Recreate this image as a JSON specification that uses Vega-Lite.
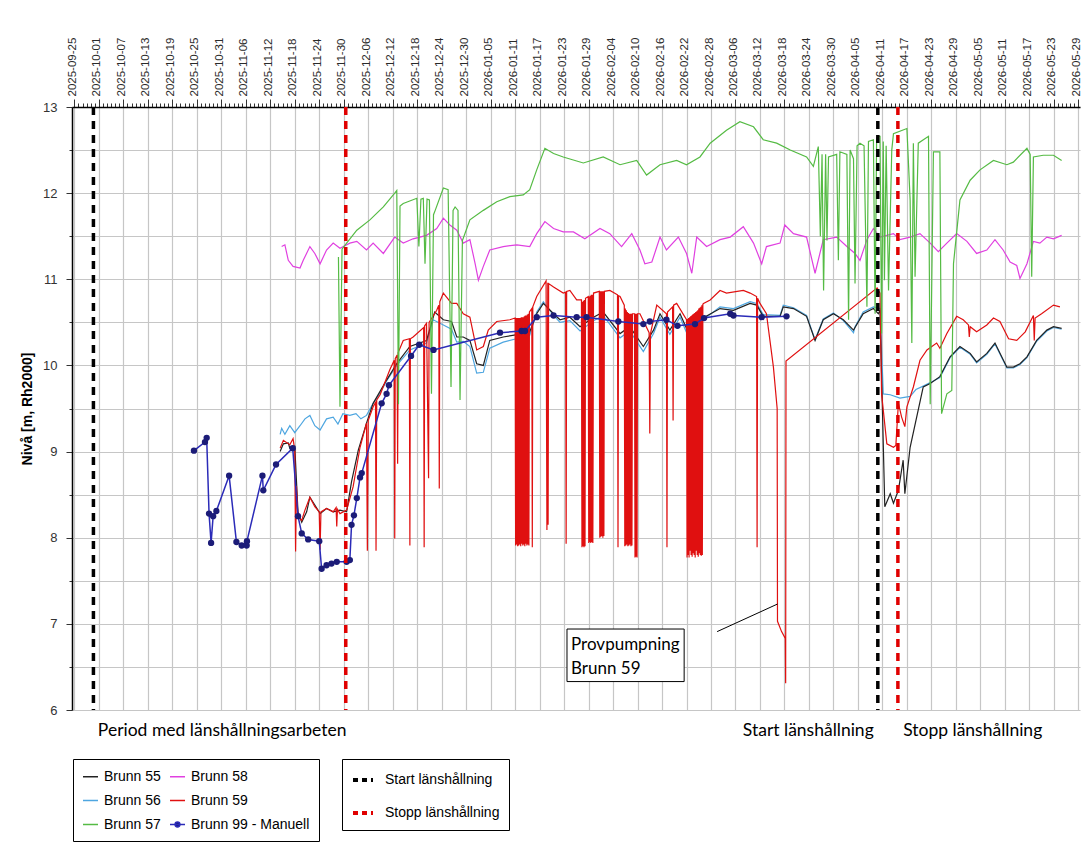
{
"$schema": "https://vega.github.io/schema/vega-lite/v6.json",
"width": 1008, "height": 603,
"autosize": "none",
"padding": {"left": 72, "top": 107, "right": 3, "bottom": 157},
"background": "white",
"config": {"view": {"stroke": null}, "font": "Liberation Sans"},
"datasets": {
"b55": [
{"t":"2025-11-14T10:00","v":9.00},{"t":"2025-11-15T05:00","v":9.09},{"t":"2025-11-16T10:00","v":9.10},{"t":"2025-11-16T19:00","v":9.04},{"t":"2025-11-18T00:00","v":9.06},{"t":"2025-11-18T19:00","v":8.30},{"t":"2025-11-19T17:00","v":8.18},{"t":"2025-11-20T22:00","v":8.30},{"t":"2025-11-21T17:00","v":8.47},{"t":"2025-11-22T22:00","v":8.38},{"t":"2025-11-24T05:00","v":8.28},{"t":"2025-11-25T19:00","v":8.34},{"t":"2025-11-27T10:00","v":8.30},{"t":"2025-11-29T02:00","v":8.32},{"t":"2025-11-30T17:00","v":8.30},{"t":"2025-12-01T22:00","v":8.65},{"t":"2025-12-03T14:00","v":9.02},{"t":"2025-12-05T14:00","v":9.33},{"t":"2025-12-07T05:00","v":9.56},{"t":"2025-12-10T12:00","v":9.83},{"t":"2025-12-13T00:00","v":10.02},{"t":"2025-12-16T05:00","v":10.22},{"t":"2025-12-20T07:00","v":10.29},{"t":"2025-12-22T07:00","v":10.62},{"t":"2025-12-24T10:00","v":10.53},{"t":"2025-12-26T10:00","v":10.51},{"t":"2025-12-27T17:00","v":10.33},{"t":"2025-12-29T07:00","v":10.33},{"t":"2025-12-30T22:00","v":10.29},{"t":"2026-01-01T14:00","v":10.02},{"t":"2026-01-03T05:00","v":10.00},{"t":"2026-01-04T19:00","v":10.29},{"t":"2026-01-08T02:00","v":10.33},{"t":"2026-01-13T00:00","v":10.37},{"t":"2026-01-14T14:00","v":10.39},{"t":"2026-01-16T07:00","v":10.60},{"t":"2026-01-17T22:00","v":10.72},{"t":"2026-01-20T10:00","v":10.60},{"t":"2026-01-22T00:00","v":10.53},{"t":"2026-01-24T10:00","v":10.56},{"t":"2026-01-26T22:00","v":10.45},{"t":"2026-01-30T05:00","v":10.56},{"t":"2026-02-01T14:00","v":10.62},{"t":"2026-02-05T17:00","v":10.37},{"t":"2026-02-08T02:00","v":10.45},{"t":"2026-02-11T10:00","v":10.22},{"t":"2026-02-13T22:00","v":10.41},{"t":"2026-02-15T12:00","v":10.60},{"t":"2026-02-17T22:00","v":10.41},{"t":"2026-02-20T10:00","v":10.60},{"t":"2026-02-22T22:00","v":10.33},{"t":"2026-02-25T07:00","v":10.53},{"t":"2026-03-02T05:00","v":10.66},{"t":"2026-03-05T12:00","v":10.64},{"t":"2026-03-09T14:00","v":10.72},{"t":"2026-03-11T05:00","v":10.70},{"t":"2026-03-12T19:00","v":10.57},{"t":"2026-03-16T22:00","v":10.57},{"t":"2026-03-17T17:00","v":10.68},{"t":"2026-03-20T05:00","v":10.66},{"t":"2026-03-23T10:00","v":10.57},{"t":"2026-03-25T12:00","v":10.29},{"t":"2026-03-27T12:00","v":10.53},{"t":"2026-03-30T00:00","v":10.60},{"t":"2026-04-01T10:00","v":10.53},{"t":"2026-04-03T22:00","v":10.41},{"t":"2026-04-06T07:00","v":10.60},{"t":"2026-04-08T19:00","v":10.66},{"t":"2026-04-10T00:00","v":10.60},{"t":"2026-04-10T10:00","v":10.64},{"t":"2026-04-11T14:00","v":8.36},{"t":"2026-04-12T22:00","v":8.51},{"t":"2026-04-13T17:00","v":8.40},{"t":"2026-04-14T22:00","v":8.55},{"t":"2026-04-16T02:00","v":8.90},{"t":"2026-04-16T12:00","v":8.51},{"t":"2026-04-17T19:00","v":9.05},{"t":"2026-04-21T00:00","v":9.75},{"t":"2026-04-22T17:00","v":9.79},{"t":"2026-04-25T02:00","v":9.87},{"t":"2026-04-27T14:00","v":10.10},{"t":"2026-04-30T00:00","v":10.22},{"t":"2026-05-02T12:00","v":10.14},{"t":"2026-05-04T02:00","v":10.04},{"t":"2026-05-06T14:00","v":10.14},{"t":"2026-05-08T14:00","v":10.26},{"t":"2026-05-11T12:00","v":9.98},{"t":"2026-05-13T02:00","v":9.98},{"t":"2026-05-14T17:00","v":10.02},{"t":"2026-05-16T10:00","v":10.10},{"t":"2026-05-18T19:00","v":10.29},{"t":"2026-05-21T07:00","v":10.41},{"t":"2026-05-22T22:00","v":10.45},{"t":"2026-05-24T22:00","v":10.43}
],
"b56": [
{"t":"2025-11-14T10:00","v":9.20},{"t":"2025-11-14T19:00","v":9.27},{"t":"2025-11-15T14:00","v":9.20},{"t":"2025-11-16T19:00","v":9.30},{"t":"2025-11-18T00:00","v":9.22},{"t":"2025-11-19T07:00","v":9.30},{"t":"2025-11-20T12:00","v":9.38},{"t":"2025-11-21T17:00","v":9.42},{"t":"2025-11-22T22:00","v":9.30},{"t":"2025-11-24T05:00","v":9.25},{"t":"2025-11-25T19:00","v":9.38},{"t":"2025-11-27T10:00","v":9.40},{"t":"2025-11-28T14:00","v":9.32},{"t":"2025-11-29T19:00","v":9.44},{"t":"2025-12-01T12:00","v":9.42},{"t":"2025-12-03T00:00","v":9.44},{"t":"2025-12-04T05:00","v":9.38},{"t":"2025-12-05T14:00","v":9.42},{"t":"2025-12-07T05:00","v":9.56},{"t":"2025-12-08T22:00","v":9.68},{"t":"2025-12-10T12:00","v":9.82},{"t":"2025-12-13T00:00","v":10.00},{"t":"2025-12-16T05:00","v":10.18},{"t":"2025-12-20T07:00","v":10.26},{"t":"2025-12-21T22:00","v":10.53},{"t":"2025-12-24T10:00","v":10.47},{"t":"2025-12-26T10:00","v":10.42},{"t":"2025-12-27T17:00","v":10.27},{"t":"2025-12-29T07:00","v":10.28},{"t":"2025-12-30T22:00","v":10.22},{"t":"2026-01-01T14:00","v":9.91},{"t":"2026-01-03T05:00","v":9.92},{"t":"2026-01-04T19:00","v":10.20},{"t":"2026-01-08T02:00","v":10.27},{"t":"2026-01-13T00:00","v":10.33},{"t":"2026-01-14T14:00","v":10.35},{"t":"2026-01-16T07:00","v":10.62},{"t":"2026-01-17T22:00","v":10.74},{"t":"2026-01-20T10:00","v":10.58},{"t":"2026-01-22T00:00","v":10.50},{"t":"2026-01-24T10:00","v":10.52},{"t":"2026-01-26T22:00","v":10.40},{"t":"2026-01-30T05:00","v":10.52},{"t":"2026-02-01T14:00","v":10.58},{"t":"2026-02-05T17:00","v":10.32},{"t":"2026-02-08T02:00","v":10.40},{"t":"2026-02-11T10:00","v":10.16},{"t":"2026-02-13T22:00","v":10.37},{"t":"2026-02-15T12:00","v":10.56},{"t":"2026-02-17T22:00","v":10.36},{"t":"2026-02-20T10:00","v":10.56},{"t":"2026-02-22T22:00","v":10.28},{"t":"2026-02-25T07:00","v":10.50},{"t":"2026-03-02T05:00","v":10.68},{"t":"2026-03-05T12:00","v":10.66},{"t":"2026-03-09T14:00","v":10.74},{"t":"2026-03-11T05:00","v":10.72},{"t":"2026-03-12T19:00","v":10.59},{"t":"2026-03-16T22:00","v":10.58},{"t":"2026-03-17T17:00","v":10.70},{"t":"2026-03-20T05:00","v":10.67},{"t":"2026-03-23T10:00","v":10.58},{"t":"2026-03-25T12:00","v":10.30},{"t":"2026-03-27T12:00","v":10.54},{"t":"2026-03-30T00:00","v":10.61},{"t":"2026-04-01T10:00","v":10.52},{"t":"2026-04-03T22:00","v":10.38},{"t":"2026-04-04T07:00","v":10.45},{"t":"2026-04-06T07:00","v":10.62},{"t":"2026-04-08T19:00","v":10.68},{"t":"2026-04-10T10:00","v":10.66},{"t":"2026-04-11T05:00","v":9.67},{"t":"2026-04-12T22:00","v":9.66},{"t":"2026-04-15T07:00","v":9.62},{"t":"2026-04-17T19:00","v":9.64},{"t":"2026-04-19T05:00","v":9.72},{"t":"2026-04-21T00:00","v":9.76},{"t":"2026-04-22T17:00","v":9.80},{"t":"2026-04-25T02:00","v":9.86},{"t":"2026-04-27T14:00","v":10.09},{"t":"2026-04-30T00:00","v":10.21},{"t":"2026-05-02T12:00","v":10.13},{"t":"2026-05-04T02:00","v":10.03},{"t":"2026-05-06T14:00","v":10.13},{"t":"2026-05-08T14:00","v":10.25},{"t":"2026-05-11T12:00","v":9.97},{"t":"2026-05-13T02:00","v":9.97},{"t":"2026-05-14T17:00","v":10.01},{"t":"2026-05-16T10:00","v":10.09},{"t":"2026-05-18T19:00","v":10.28},{"t":"2026-05-21T07:00","v":10.40},{"t":"2026-05-22T22:00","v":10.44},{"t":"2026-05-24T22:00","v":10.42}
],
"b57": [
{"t":"2025-11-28T17:00","v":11.26},{"t":"2025-11-29T02:00","v":9.52},{"t":"2025-11-29T14:00","v":11.35},{"t":"2025-11-30T17:00","v":11.42},{"t":"2025-12-03T05:00","v":11.57},{"t":"2025-12-06T10:00","v":11.69},{"t":"2025-12-09T17:00","v":11.84},{"t":"2025-12-12T12:00","v":12.00},{"t":"2025-12-13T00:00","v":12.03},{"t":"2025-12-13T10:00","v":9.55},{"t":"2025-12-13T19:00","v":11.85},{"t":"2025-12-14T14:00","v":11.88},{"t":"2025-12-17T22:00","v":11.94},{"t":"2025-12-18T10:00","v":11.38},{"t":"2025-12-18T22:00","v":11.93},{"t":"2025-12-19T12:00","v":11.94},{"t":"2025-12-19T22:00","v":11.18},{"t":"2025-12-20T10:00","v":11.93},{"t":"2025-12-21T00:00","v":11.92},{"t":"2025-12-21T12:00","v":9.67},{"t":"2025-12-22T00:00","v":11.75},{"t":"2025-12-22T10:00","v":11.80},{"t":"2025-12-24T10:00","v":12.06},{"t":"2025-12-25T14:00","v":12.04},{"t":"2025-12-26T07:00","v":9.75},{"t":"2025-12-26T19:00","v":11.80},{"t":"2025-12-27T07:00","v":11.84},{"t":"2025-12-28T00:00","v":11.80},{"t":"2025-12-28T12:00","v":9.60},{"t":"2025-12-29T02:00","v":11.45},{"t":"2025-12-30T22:00","v":11.69},{"t":"2026-01-03T05:00","v":11.80},{"t":"2026-01-06T12:00","v":11.90},{"t":"2026-01-09T17:00","v":11.96},{"t":"2026-01-13T00:00","v":11.98},{"t":"2026-01-14T14:00","v":12.04},{"t":"2026-01-16T07:00","v":12.27},{"t":"2026-01-18T07:00","v":12.52},{"t":"2026-01-20T10:00","v":12.46},{"t":"2026-01-22T19:00","v":12.42},{"t":"2026-01-27T17:00","v":12.35},{"t":"2026-02-01T14:00","v":12.42},{"t":"2026-02-05T17:00","v":12.33},{"t":"2026-02-09T19:00","v":12.38},{"t":"2026-02-12T05:00","v":12.21},{"t":"2026-02-15T12:00","v":12.33},{"t":"2026-02-19T14:00","v":12.38},{"t":"2026-02-22T00:00","v":12.33},{"t":"2026-02-25T07:00","v":12.42},{"t":"2026-02-27T19:00","v":12.58},{"t":"2026-03-03T19:00","v":12.73},{"t":"2026-03-07T02:00","v":12.83},{"t":"2026-03-10T10:00","v":12.77},{"t":"2026-03-12T19:00","v":12.62},{"t":"2026-03-16T02:00","v":12.58},{"t":"2026-03-19T10:00","v":12.50},{"t":"2026-03-23T10:00","v":12.42},{"t":"2026-03-25T02:00","v":12.31},{"t":"2026-03-26T07:00","v":12.54},{"t":"2026-03-26T19:00","v":11.50},{"t":"2026-03-27T05:00","v":12.45},{"t":"2026-03-27T14:00","v":10.87},{"t":"2026-03-28T02:00","v":12.45},{"t":"2026-03-28T10:00","v":11.45},{"t":"2026-03-28T19:00","v":12.42},{"t":"2026-03-30T19:00","v":12.45},{"t":"2026-03-31T05:00","v":11.22},{"t":"2026-03-31T14:00","v":12.48},{"t":"2026-04-02T07:00","v":12.45},{"t":"2026-04-02T17:00","v":10.53},{"t":"2026-04-03T02:00","v":12.50},{"t":"2026-04-03T22:00","v":12.40},{"t":"2026-04-04T07:00","v":10.95},{"t":"2026-04-04T19:00","v":12.55},{"t":"2026-04-05T12:00","v":12.58},{"t":"2026-04-06T12:00","v":12.55},{"t":"2026-04-07T05:00","v":10.68},{"t":"2026-04-07T14:00","v":12.60},{"t":"2026-04-08T19:00","v":12.62},{"t":"2026-04-09T05:00","v":10.60},{"t":"2026-04-09T14:00","v":12.64},{"t":"2026-04-10T00:00","v":12.66},{"t":"2026-04-10T10:00","v":12.66},{"t":"2026-04-10T19:00","v":10.37},{"t":"2026-04-11T05:00","v":12.60},{"t":"2026-04-11T12:00","v":10.99},{"t":"2026-04-11T22:00","v":12.55},{"t":"2026-04-12T12:00","v":10.87},{"t":"2026-04-13T07:00","v":12.50},{"t":"2026-04-13T17:00","v":12.69},{"t":"2026-04-17T00:00","v":12.75},{"t":"2026-04-17T19:00","v":11.92},{"t":"2026-04-18T05:00","v":10.26},{"t":"2026-04-18T14:00","v":12.58},{"t":"2026-04-19T00:00","v":11.03},{"t":"2026-04-19T19:00","v":12.58},{"t":"2026-04-22T07:00","v":12.66},{"t":"2026-04-22T17:00","v":9.55},{"t":"2026-04-23T12:00","v":12.48},{"t":"2026-04-25T02:00","v":12.48},{"t":"2026-04-25T12:00","v":9.44},{"t":"2026-04-26T19:00","v":9.67},{"t":"2026-04-28T00:00","v":9.71},{"t":"2026-04-28T10:00","v":11.18},{"t":"2026-04-30T00:00","v":11.92},{"t":"2026-05-02T12:00","v":12.15},{"t":"2026-05-04T22:00","v":12.27},{"t":"2026-05-08T05:00","v":12.38},{"t":"2026-05-11T12:00","v":12.33},{"t":"2026-05-13T02:00","v":12.36},{"t":"2026-05-16T10:00","v":12.52},{"t":"2026-05-17T05:00","v":12.45},{"t":"2026-05-17T14:00","v":11.03},{"t":"2026-05-18T00:00","v":12.42},{"t":"2026-05-20T10:00","v":12.44},{"t":"2026-05-22T22:00","v":12.44},{"t":"2026-05-24T22:00","v":12.38}
],
"b58": [
{"t":"2025-11-14T19:00","v":11.38},{"t":"2025-11-15T14:00","v":11.40},{"t":"2025-11-16T10:00","v":11.22},{"t":"2025-11-17T14:00","v":11.15},{"t":"2025-11-19T07:00","v":11.13},{"t":"2025-11-20T02:00","v":11.22},{"t":"2025-11-21T17:00","v":11.38},{"t":"2025-11-22T22:00","v":11.30},{"t":"2025-11-24T05:00","v":11.18},{"t":"2025-11-25T19:00","v":11.34},{"t":"2025-11-27T10:00","v":11.42},{"t":"2025-11-29T02:00","v":11.36},{"t":"2025-12-01T12:00","v":11.42},{"t":"2025-12-03T05:00","v":11.44},{"t":"2025-12-05T14:00","v":11.34},{"t":"2025-12-07T05:00","v":11.42},{"t":"2025-12-09T17:00","v":11.30},{"t":"2025-12-12T12:00","v":11.49},{"t":"2025-12-14T14:00","v":11.42},{"t":"2025-12-17T00:00","v":11.47},{"t":"2025-12-20T07:00","v":11.51},{"t":"2025-12-22T19:00","v":11.59},{"t":"2025-12-24T10:00","v":11.71},{"t":"2025-12-26T00:00","v":11.63},{"t":"2025-12-27T17:00","v":11.57},{"t":"2025-12-29T07:00","v":11.42},{"t":"2025-12-30T22:00","v":11.46},{"t":"2026-01-01T05:00","v":11.18},{"t":"2026-01-02T00:00","v":10.99},{"t":"2026-01-03T05:00","v":11.15},{"t":"2026-01-04T19:00","v":11.34},{"t":"2026-01-08T02:00","v":11.38},{"t":"2026-01-11T10:00","v":11.40},{"t":"2026-01-14T14:00","v":11.38},{"t":"2026-01-16T07:00","v":11.53},{"t":"2026-01-18T07:00","v":11.67},{"t":"2026-01-20T10:00","v":11.59},{"t":"2026-01-22T19:00","v":11.55},{"t":"2026-01-25T07:00","v":11.55},{"t":"2026-01-28T02:00","v":11.47},{"t":"2026-01-31T19:00","v":11.59},{"t":"2026-02-03T05:00","v":11.53},{"t":"2026-02-06T02:00","v":11.38},{"t":"2026-02-08T14:00","v":11.53},{"t":"2026-02-10T14:00","v":11.34},{"t":"2026-02-11T19:00","v":11.18},{"t":"2026-02-13T12:00","v":11.20},{"t":"2026-02-15T12:00","v":11.49},{"t":"2026-02-17T02:00","v":11.34},{"t":"2026-02-20T00:00","v":11.49},{"t":"2026-02-22T00:00","v":11.30},{"t":"2026-02-23T07:00","v":11.07},{"t":"2026-02-24T12:00","v":11.49},{"t":"2026-02-26T22:00","v":11.38},{"t":"2026-03-02T05:00","v":11.46},{"t":"2026-03-04T17:00","v":11.49},{"t":"2026-03-07T22:00","v":11.61},{"t":"2026-03-10T10:00","v":11.42},{"t":"2026-03-12T10:00","v":11.18},{"t":"2026-03-13T14:00","v":11.38},{"t":"2026-03-16T22:00","v":11.42},{"t":"2026-03-18T02:00","v":11.63},{"t":"2026-03-20T05:00","v":11.53},{"t":"2026-03-23T10:00","v":11.49},{"t":"2026-03-25T12:00","v":11.07},{"t":"2026-03-27T12:00","v":11.46},{"t":"2026-03-30T19:00","v":11.49},{"t":"2026-04-02T07:00","v":11.38},{"t":"2026-04-04T07:00","v":11.30},{"t":"2026-04-05T12:00","v":11.22},{"t":"2026-04-07T05:00","v":11.46},{"t":"2026-04-08T19:00","v":11.59},{"t":"2026-04-10T10:00","v":11.49},{"t":"2026-04-13T17:00","v":11.53},{"t":"2026-04-15T07:00","v":11.46},{"t":"2026-04-17T19:00","v":11.49},{"t":"2026-04-20T05:00","v":11.53},{"t":"2026-04-22T17:00","v":11.42},{"t":"2026-04-24T17:00","v":11.32},{"t":"2026-04-26T19:00","v":11.42},{"t":"2026-04-29T05:00","v":11.53},{"t":"2026-05-01T17:00","v":11.44},{"t":"2026-05-04T02:00","v":11.30},{"t":"2026-05-06T14:00","v":11.34},{"t":"2026-05-08T14:00","v":11.46},{"t":"2026-05-10T14:00","v":11.34},{"t":"2026-05-12T07:00","v":11.20},{"t":"2026-05-13T22:00","v":11.16},{"t":"2026-05-14T17:00","v":11.01},{"t":"2026-05-16T10:00","v":11.18},{"t":"2026-05-18T00:00","v":11.44},{"t":"2026-05-19T14:00","v":11.42},{"t":"2026-05-21T07:00","v":11.49},{"t":"2026-05-22T22:00","v":11.47},{"t":"2026-05-24T22:00","v":11.51}
],
"b59": [
{"t":"2025-11-14T10:00","v":9.04},{"t":"2025-11-15T05:00","v":9.13},{"t":"2025-11-16T19:00","v":9.08},{"t":"2025-11-17T14:00","v":9.15},{"t":"2025-11-18T00:00","v":9.02},{"t":"2025-11-18T05:00","v":7.84},{"t":"2025-11-18T10:00","v":8.60},{"t":"2025-11-18T19:00","v":8.24},{"t":"2025-11-19T17:00","v":8.20},{"t":"2025-11-20T12:00","v":8.32},{"t":"2025-11-21T17:00","v":8.47},{"t":"2025-11-22T22:00","v":8.36},{"t":"2025-11-24T00:00","v":8.30},{"t":"2025-11-24T05:00","v":7.86},{"t":"2025-11-24T10:00","v":8.30},{"t":"2025-11-25T19:00","v":8.34},{"t":"2025-11-27T10:00","v":8.30},{"t":"2025-11-28T03:00","v":8.35},{"t":"2025-11-28T07:00","v":8.13},{"t":"2025-11-28T11:00","v":8.33},{"t":"2025-11-29T02:00","v":8.28},{"t":"2025-11-30T17:00","v":8.32},{"t":"2025-12-02T07:00","v":8.59},{"t":"2025-12-04T00:00","v":9.05},{"t":"2025-12-05T14:00","v":9.33},{"t":"2025-12-05T19:00","v":7.85},{"t":"2025-12-06T00:00","v":9.36},{"t":"2025-12-07T05:00","v":9.52},{"t":"2025-12-07T19:00","v":9.57},{"t":"2025-12-07T22:00","v":7.85},{"t":"2025-12-08T02:00","v":9.60},{"t":"2025-12-08T22:00","v":9.66},{"t":"2025-12-11T07:00","v":9.95},{"t":"2025-12-12T09:00","v":10.06},{"t":"2025-12-12T12:00","v":7.99},{"t":"2025-12-12T15:00","v":10.08},{"t":"2025-12-13T02:00","v":10.12},{"t":"2025-12-13T05:00","v":8.86},{"t":"2025-12-13T08:00","v":10.15},{"t":"2025-12-14T14:00","v":10.29},{"t":"2025-12-16T02:00","v":10.31},{"t":"2025-12-16T05:00","v":7.91},{"t":"2025-12-16T08:00","v":10.31},{"t":"2025-12-17T00:00","v":10.33},{"t":"2025-12-19T14:00","v":10.44},{"t":"2025-12-19T17:00","v":7.89},{"t":"2025-12-19T20:00","v":10.46},{"t":"2025-12-20T07:00","v":10.49},{"t":"2025-12-20T19:00","v":8.69},{"t":"2025-12-20T22:00","v":10.50},{"t":"2025-12-22T19:00","v":10.64},{"t":"2025-12-23T07:00","v":10.70},{"t":"2025-12-23T10:00","v":8.57},{"t":"2025-12-23T13:00","v":10.74},{"t":"2025-12-24T10:00","v":10.84},{"t":"2025-12-26T10:00","v":10.72},{"t":"2025-12-27T17:00","v":10.72},{"t":"2025-12-29T07:00","v":10.60},{"t":"2025-12-30T22:00","v":10.56},{"t":"2026-01-01T14:00","v":10.18},{"t":"2026-01-03T05:00","v":10.22},{"t":"2026-01-04T10:00","v":10.41},{"t":"2026-01-06T12:00","v":10.51},{"t":"2026-01-09T17:00","v":10.53},
{"t":"2026-01-11T00:00","v":10.55},{"t":"2026-01-11T03:00","v":7.91},{"t":"2026-01-11T06:00","v":10.55},{"t":"2026-01-11T09:00","v":7.92},{"t":"2026-01-11T12:00","v":10.55},{"t":"2026-01-11T15:00","v":7.90},{"t":"2026-01-11T18:00","v":10.55},{"t":"2026-01-11T21:00","v":7.91},{"t":"2026-01-12T00:00","v":10.55},{"t":"2026-01-12T03:00","v":7.92},{"t":"2026-01-12T06:00","v":10.55},{"t":"2026-01-12T09:00","v":7.90},{"t":"2026-01-12T12:00","v":10.56},{"t":"2026-01-12T15:00","v":7.93},{"t":"2026-01-12T18:00","v":10.56},{"t":"2026-01-12T21:00","v":7.91},{"t":"2026-01-13T00:00","v":10.56},{"t":"2026-01-13T03:00","v":7.92},{"t":"2026-01-13T06:00","v":10.57},{"t":"2026-01-13T09:00","v":7.90},{"t":"2026-01-13T12:00","v":10.58},{"t":"2026-01-13T15:00","v":7.93},{"t":"2026-01-13T18:00","v":10.58},{"t":"2026-01-13T21:00","v":7.91},{"t":"2026-01-14T00:00","v":10.59},{"t":"2026-01-14T03:00","v":7.92},{"t":"2026-01-14T06:00","v":10.60},{"t":"2026-01-14T09:00","v":7.91},{"t":"2026-01-14T12:00","v":10.62},
{"t":"2026-01-15T02:00","v":10.66},{"t":"2026-01-15T05:00","v":7.89},{"t":"2026-01-15T08:00","v":10.68},{"t":"2026-01-16T07:00","v":10.80},{"t":"2026-01-18T14:00","v":10.98},{"t":"2026-01-18T19:00","v":8.09},{"t":"2026-01-19T00:00","v":10.96},{"t":"2026-01-19T02:00","v":8.15},{"t":"2026-01-19T05:00","v":10.95},{"t":"2026-01-20T10:00","v":10.91},{"t":"2026-01-22T19:00","v":10.84},{"t":"2026-01-23T09:00","v":10.85},{"t":"2026-01-23T12:00","v":7.93},{"t":"2026-01-23T15:00","v":10.86},{"t":"2026-01-24T10:00","v":10.87},{"t":"2026-01-26T02:00","v":10.76},
{"t":"2026-01-27T06:00","v":10.76},{"t":"2026-01-27T09:00","v":7.89},{"t":"2026-01-27T12:00","v":10.74},{"t":"2026-01-27T15:00","v":7.90},{"t":"2026-01-27T18:00","v":10.75},{"t":"2026-01-27T21:00","v":7.89},{"t":"2026-01-28T00:00","v":10.76},{"t":"2026-01-28T03:00","v":7.90},{"t":"2026-01-28T06:00","v":10.78},
{"t":"2026-01-28T22:00","v":10.80},{"t":"2026-01-29T01:00","v":7.94},{"t":"2026-01-29T04:00","v":10.80},{"t":"2026-01-29T07:00","v":7.95},{"t":"2026-01-29T10:00","v":10.81},{"t":"2026-01-29T13:00","v":7.94},{"t":"2026-01-29T16:00","v":10.82},{"t":"2026-01-29T19:00","v":7.95},{"t":"2026-01-29T22:00","v":10.82},{"t":"2026-01-30T01:00","v":7.94},{"t":"2026-01-30T05:00","v":10.84},
{"t":"2026-01-31T15:00","v":10.86},{"t":"2026-01-31T18:00","v":8.00},{"t":"2026-01-31T21:00","v":10.86},{"t":"2026-02-01T00:00","v":8.01},{"t":"2026-02-01T03:00","v":10.86},{"t":"2026-02-01T06:00","v":8.02},{"t":"2026-02-01T09:00","v":10.86},{"t":"2026-02-01T12:00","v":8.00},{"t":"2026-02-01T15:00","v":10.86},{"t":"2026-02-01T18:00","v":8.02},{"t":"2026-02-01T21:00","v":10.86},
{"t":"2026-02-03T05:00","v":10.87},{"t":"2026-02-05T02:00","v":10.82},{"t":"2026-02-05T05:00","v":7.89},{"t":"2026-02-05T08:00","v":10.81},{"t":"2026-02-05T17:00","v":10.80},
{"t":"2026-02-06T18:00","v":10.70},{"t":"2026-02-06T21:00","v":7.90},{"t":"2026-02-07T00:00","v":10.66},{"t":"2026-02-07T03:00","v":7.91},{"t":"2026-02-07T06:00","v":10.64},{"t":"2026-02-07T09:00","v":7.92},{"t":"2026-02-07T12:00","v":10.62},{"t":"2026-02-07T15:00","v":7.90},{"t":"2026-02-07T18:00","v":10.61},{"t":"2026-02-07T21:00","v":7.91},{"t":"2026-02-08T00:00","v":10.60},{"t":"2026-02-08T03:00","v":7.92},{"t":"2026-02-08T06:00","v":10.60},{"t":"2026-02-08T09:00","v":7.90},{"t":"2026-02-08T12:00","v":10.60},{"t":"2026-02-08T15:00","v":7.91},{"t":"2026-02-08T18:00","v":10.60},
{"t":"2026-02-09T06:00","v":10.60},{"t":"2026-02-09T09:00","v":7.77},{"t":"2026-02-09T12:00","v":10.60},{"t":"2026-02-09T15:00","v":7.78},{"t":"2026-02-09T18:00","v":10.60},{"t":"2026-02-09T21:00","v":7.77},{"t":"2026-02-10T00:00","v":10.60},
{"t":"2026-02-10T14:00","v":10.60},{"t":"2026-02-12T20:00","v":10.38},{"t":"2026-02-13T00:00","v":9.21},{"t":"2026-02-13T04:00","v":10.37},{"t":"2026-02-14T17:00","v":10.70},{"t":"2026-02-17T02:00","v":10.60},{"t":"2026-02-17T05:00","v":7.89},{"t":"2026-02-17T08:00","v":10.62},{"t":"2026-02-18T14:00","v":10.68},{"t":"2026-02-18T17:00","v":9.36},{"t":"2026-02-18T20:00","v":10.70},{"t":"2026-02-19T14:00","v":10.72},
{"t":"2026-02-22T00:00","v":10.53},{"t":"2026-02-22T03:00","v":7.77},{"t":"2026-02-22T06:00","v":10.54},{"t":"2026-02-22T09:00","v":7.80},{"t":"2026-02-22T12:00","v":10.55},{"t":"2026-02-22T15:00","v":7.77},{"t":"2026-02-22T18:00","v":10.56},{"t":"2026-02-22T21:00","v":7.85},{"t":"2026-02-23T00:00","v":10.57},{"t":"2026-02-23T03:00","v":7.80},{"t":"2026-02-23T06:00","v":10.58},{"t":"2026-02-23T09:00","v":7.78},{"t":"2026-02-23T12:00","v":10.59},{"t":"2026-02-23T15:00","v":7.82},{"t":"2026-02-23T18:00","v":10.60},{"t":"2026-02-23T21:00","v":7.80},{"t":"2026-02-24T00:00","v":10.61},{"t":"2026-02-24T03:00","v":7.77},{"t":"2026-02-24T06:00","v":10.62},{"t":"2026-02-24T09:00","v":7.85},{"t":"2026-02-24T12:00","v":10.63},{"t":"2026-02-24T15:00","v":7.80},{"t":"2026-02-24T18:00","v":10.64},{"t":"2026-02-24T21:00","v":7.78},{"t":"2026-02-25T00:00","v":10.66},{"t":"2026-02-25T03:00","v":7.82},{"t":"2026-02-25T06:00","v":10.67},{"t":"2026-02-25T09:00","v":7.80},{"t":"2026-02-25T12:00","v":10.68},{"t":"2026-02-25T15:00","v":7.79},{"t":"2026-02-25T18:00","v":10.70},{"t":"2026-02-25T21:00","v":7.80},{"t":"2026-02-26T00:00","v":10.71},
{"t":"2026-02-26T04:00","v":10.72},{"t":"2026-02-27T19:00","v":10.76},{"t":"2026-03-02T05:00","v":10.87},{"t":"2026-03-03T19:00","v":10.84},{"t":"2026-03-07T22:00","v":10.87},{"t":"2026-03-09T14:00","v":10.84},{"t":"2026-03-11T04:00","v":10.80},{"t":"2026-03-11T07:00","v":7.89},{"t":"2026-03-11T10:00","v":10.78},{"t":"2026-03-12T00:00","v":10.72},{"t":"2026-03-13T14:00","v":10.60},{"t":"2026-03-15T07:00","v":9.98},{"t":"2026-03-16T05:00","v":9.50},{"t":"2026-03-16T07:00","v":7.03},{"t":"2026-03-17T07:00","v":6.91},{"t":"2026-03-18T05:00","v":6.83},{"t":"2026-03-18T07:00","v":6.31},{"t":"2026-03-18T09:00","v":10.05},{"t":"2026-04-09T17:00","v":10.90},{"t":"2026-04-10T10:00","v":10.84},{"t":"2026-04-10T19:00","v":9.67},{"t":"2026-04-12T02:00","v":9.09},{"t":"2026-04-13T17:00","v":9.05},{"t":"2026-04-14T07:00","v":9.07},{"t":"2026-04-14T22:00","v":9.56},{"t":"2026-04-15T17:00","v":9.40},{"t":"2026-04-16T12:00","v":9.29},{"t":"2026-04-17T00:00","v":9.52},{"t":"2026-04-18T14:00","v":9.75},{"t":"2026-04-20T05:00","v":10.06},{"t":"2026-04-21T22:00","v":10.18},{"t":"2026-04-24T07:00","v":10.26},{"t":"2026-04-25T02:00","v":10.20},{"t":"2026-04-26T19:00","v":10.37},{"t":"2026-04-29T05:00","v":10.57},{"t":"2026-04-30T19:00","v":10.53},{"t":"2026-05-02T02:00","v":10.47},{"t":"2026-05-02T07:00","v":10.33},{"t":"2026-05-02T12:00","v":10.45},{"t":"2026-05-04T02:00","v":10.39},{"t":"2026-05-06T14:00","v":10.47},{"t":"2026-05-08T05:00","v":10.55},{"t":"2026-05-09T19:00","v":10.51},{"t":"2026-05-11T22:00","v":10.31},{"t":"2026-05-13T22:00","v":10.29},{"t":"2026-05-16T00:00","v":10.39},{"t":"2026-05-18T00:00","v":10.58},{"t":"2026-05-18T05:00","v":10.29},{"t":"2026-05-18T10:00","v":10.55},{"t":"2026-05-20T00:00","v":10.60},{"t":"2026-05-22T22:00","v":10.70},{"t":"2026-05-24T12:00","v":10.68}
],
"b99": [
{"t":"2025-10-24T07:00","v":9.01},{"t":"2025-10-27T00:00","v":9.11},{"t":"2025-10-27T10:00","v":9.16},{"t":"2025-10-28T00:00","v":8.28},{"t":"2025-10-28T12:00","v":7.94},{"t":"2025-10-29T00:00","v":8.25},{"t":"2025-10-29T19:00","v":8.31},{"t":"2025-11-01T22:00","v":8.72},{"t":"2025-11-03T17:00","v":7.95},{"t":"2025-11-05T00:00","v":7.91},{"t":"2025-11-06T05:00","v":7.91},{"t":"2025-11-06T07:00","v":7.96},{"t":"2025-11-10T02:00","v":8.72},{"t":"2025-11-10T07:00","v":8.55},{"t":"2025-11-13T10:00","v":8.85},{"t":"2025-11-17T12:00","v":9.04},{"t":"2025-11-18T19:00","v":8.25},{"t":"2025-11-19T17:00","v":8.05},{"t":"2025-11-21T07:00","v":7.98},{"t":"2025-11-24T00:00","v":7.96},{"t":"2025-11-24T14:00","v":7.64},{"t":"2025-11-25T19:00","v":7.68},{"t":"2025-11-27T00:00","v":7.70},{"t":"2025-11-28T07:00","v":7.72},{"t":"2025-11-30T17:00","v":7.72},{"t":"2025-12-01T12:00","v":7.74},{"t":"2025-12-01T22:00","v":8.15},{"t":"2025-12-02T12:00","v":8.26},{"t":"2025-12-03T05:00","v":8.46},{"t":"2025-12-04T00:00","v":8.70},{"t":"2025-12-04T10:00","v":8.75},{"t":"2025-12-09T07:00","v":9.56},{"t":"2025-12-10T12:00","v":9.67},{"t":"2025-12-11T02:00","v":9.77},{"t":"2025-12-16T12:00","v":10.11},{"t":"2025-12-18T12:00","v":10.24},{"t":"2025-12-22T00:00","v":10.18},{"t":"2026-01-07T07:00","v":10.38},{"t":"2026-01-12T14:00","v":10.40},{"t":"2026-01-13T10:00","v":10.40},{"t":"2026-01-16T07:00","v":10.56},{"t":"2026-01-20T10:00","v":10.58},{"t":"2026-01-26T02:00","v":10.56},{"t":"2026-01-28T12:00","v":10.56},{"t":"2026-02-05T07:00","v":10.51},{"t":"2026-02-11T10:00","v":10.48},{"t":"2026-02-13T00:00","v":10.51},{"t":"2026-02-17T02:00","v":10.53},{"t":"2026-02-19T19:00","v":10.46},{"t":"2026-02-24T02:00","v":10.48},{"t":"2026-02-26T07:00","v":10.55},{"t":"2026-03-04T17:00","v":10.60},{"t":"2026-03-05T12:00","v":10.58},{"t":"2026-03-12T10:00","v":10.56},{"t":"2026-03-18T12:00","v":10.57}
],
"events": [
{"t":"2025-09-29T16:00","e":"Start länshållning"},{"t":"2025-11-30T12:00","e":"Stopp länshållning"},{"t":"2026-04-09T21:00","e":"Start länshållning"},{"t":"2026-04-14T19:00","e":"Stopp länshållning"}
],
"box": [{"t":"2026-01-23T17:00","t2":"2026-02-21T10:00","v":6.94,"v2":6.33}],
"boxtext": [{"t":"2026-01-24T17:00","v":6.75,"txt":"Provpumpning"},{"t":"2026-01-24T17:00","v":6.48,"txt":"Brunn 59"}],
"callout": [{"t":"2026-03-01T12:00","v":6.91,"t2":"2026-03-16T07:00","v2":7.23}],
"notes": [{"t":"2025-09-30T18:00","v":5.76,"txt":"Period med länshållningsarbeten"},{"t":"2026-03-07T19:00","v":5.76,"txt":"Start länshållning"},{"t":"2026-04-16T02:00","v":5.76,"txt":"Stopp länshållning"}]
},
"layer": [
{"data": {"name": "b56"}, "mark": {"type": "line", "strokeWidth": 1.2},
 "encoding": {
  "x": {"field": "t", "type": "temporal",
   "scale": {"domain": [{"year": 2025, "month": 9, "date": 24, "hours": 10}, {"year": 2026, "month": 5, "date": 29, "hours": 10}]},
   "axis": {"orient": "top", "title": null,
    "tickCount": {"interval": "day", "step": 1},
    "labelExpr": "round((datum.value - datetime(2025,8,25))/86400000) % 6 === 0 ? timeFormat(datum.value, '%Y-%m-%d') : ''",
    "labelAngle": 270, "labelAlign": "left", "labelBaseline": "middle", "labelOffset": -2,
    "labelOverlap": false, "labelFlush": false, "labelBound": false,
    "labelFont": "Liberation Sans", "labelFontSize": 11.5, "labelColor": "#2a2a2a", "labelPadding": 3,
    "tickSize": {"condition": {"test": "round((datum.value - datetime(2025,8,25))/86400000) % 6 === 0", "value": 8}, "value": 4},
    "tickColor": "#333333", "tickWidth": 1,
    "grid": true,
    "gridOpacity": {"condition": {"test": "round((datum.value - datetime(2025,8,25))/86400000) % 6 === 0", "value": 1}, "value": 0},
    "gridColor": "#c6c6c6", "gridWidth": 1.2,
    "domainColor": "#000000", "domainWidth": 1.5}},
  "y": {"field": "v", "type": "quantitative",
   "scale": {"domain": [6, 13], "nice": false, "zero": false},
   "axis": {"title": "Nivå [m, Rh2000]", "values": [6,6.5,7,7.5,8,8.5,9,9.5,10,10.5,11,11.5,12,12.5,13],
    "format": ".0f",
    "labelExpr": "datum.value % 1 === 0 ? datum.label : ''",
    "tickSize": {"condition": {"test": "datum.value % 1 === 0", "value": 6}, "value": 3},
    "tickColor": "#333333", "labelFont": "Liberation Sans", "labelFontSize": 13, "labelColor": "#333333", "labelPadding": 9,
    "titleFont": "Liberation Sans", "titleFontSize": 14, "titleFontWeight": "bold", "titleColor": "#000000", "titlePadding": 8,
    "grid": true, "gridColor": "#c6c6c6", "gridWidth": 1.2, "domainColor": "#000000", "domainWidth": 1.5}},
  "color": {"datum": "Brunn 56", "type": "nominal",
   "scale": {"domain": ["Brunn 55","Brunn 56","Brunn 57","Brunn 58","Brunn 59","Brunn 99 - Manuell"],
             "range": ["#222222","#4ea6e0","#55bb44","#e040e0","#e01010","#2b2bb8"]},
   "legend": {"orient": "none", "legendX": 1, "legendY": 652, "title": null, "columns": 2,
    "symbolType": "stroke", "symbolSize": 225, "symbolStrokeWidth": 1.5,
    "labelFont": "Liberation Sans", "labelFontSize": 14, "labelColor": "#000000", "labelOffset": 5,
    "rowPadding": 8, "columnPadding": 6, "padding": 9,
    "strokeColor": "#000000", "fillColor": "#ffffff",
    "encode": {"symbols": {"update": {
      "shape": {"signal": "datum.value === 'Brunn 99 - Manuell' ? 'M-1,0L1,0M-0.32,0A0.32,0.32,0,1,1,0.32,0A0.32,0.32,0,1,1,-0.32,0' : 'stroke'"},
      "fill": {"signal": "datum.value === 'Brunn 99 - Manuell' ? '#1c1c78' : 'transparent'"}}}}}}
 }},
{"data": {"name": "b55"}, "mark": {"type": "line", "strokeWidth": 1.2},
 "encoding": {"x": {"field": "t", "type": "temporal"}, "y": {"field": "v", "type": "quantitative"}, "color": {"datum": "Brunn 55", "type": "nominal"}}},
{"data": {"name": "b59"}, "mark": {"type": "line", "strokeWidth": 1.2},
 "encoding": {"x": {"field": "t", "type": "temporal"}, "y": {"field": "v", "type": "quantitative"}, "color": {"datum": "Brunn 59", "type": "nominal"}}},
{"data": {"name": "b58"}, "mark": {"type": "line", "strokeWidth": 1.2},
 "encoding": {"x": {"field": "t", "type": "temporal"}, "y": {"field": "v", "type": "quantitative"}, "color": {"datum": "Brunn 58", "type": "nominal"}}},
{"data": {"name": "b57"}, "mark": {"type": "line", "strokeWidth": 1.2},
 "encoding": {"x": {"field": "t", "type": "temporal"}, "y": {"field": "v", "type": "quantitative"}, "color": {"datum": "Brunn 57", "type": "nominal"}}},
{"data": {"name": "b99"}, "mark": {"type": "line", "strokeWidth": 1.5},
 "encoding": {"x": {"field": "t", "type": "temporal"}, "y": {"field": "v", "type": "quantitative"}, "color": {"datum": "Brunn 99 - Manuell", "type": "nominal"}}},
{"data": {"name": "b99"}, "mark": {"type": "circle", "size": 40, "color": "#1c1c78", "opacity": 1},
 "encoding": {"x": {"field": "t", "type": "temporal"}, "y": {"field": "v", "type": "quantitative"}}},
{"data": {"name": "box"}, "mark": {"type": "rect", "fill": "#ffffff", "stroke": "#000000", "strokeWidth": 1},
 "encoding": {"x": {"field": "t", "type": "temporal"}, "x2": {"field": "t2"}, "y": {"field": "v", "type": "quantitative"}, "y2": {"field": "v2"}}},
{"data": {"name": "boxtext"}, "mark": {"type": "text", "font": "Lato", "fontSize": 17, "align": "left", "baseline": "middle", "color": "#000000"},
 "encoding": {"x": {"field": "t", "type": "temporal"}, "y": {"field": "v", "type": "quantitative"}, "text": {"field": "txt"}}},
{"data": {"name": "callout"}, "mark": {"type": "rule", "color": "#000000", "strokeWidth": 1},
 "encoding": {"x": {"field": "t", "type": "temporal"}, "x2": {"field": "t2"}, "y": {"field": "v", "type": "quantitative"}, "y2": {"field": "v2"}}},
{"data": {"name": "notes"}, "mark": {"type": "text", "font": "Lato", "fontSize": 17.5, "align": "left", "baseline": "middle", "color": "#000000"},
 "encoding": {"x": {"field": "t", "type": "temporal"}, "y": {"field": "v", "type": "quantitative"}, "text": {"field": "txt"}}},
{"data": {"name": "events"}, "mark": {"type": "rule", "strokeWidth": 3.5, "strokeDash": [8, 6]},
 "encoding": {"x": {"field": "t", "type": "temporal"},
  "stroke": {"field": "e", "type": "nominal",
   "scale": {"domain": ["Start länshållning", "Stopp länshållning"], "range": ["#000000", "#e00000"]},
   "legend": {"orient": "none", "legendX": 270, "legendY": 652, "title": null,
    "symbolType": "stroke", "symbolDash": [5, 4], "symbolStrokeWidth": 4, "symbolSize": 400,
    "labelFont": "Liberation Sans", "labelFontSize": 14, "labelColor": "#000000", "labelOffset": 10,
    "rowPadding": 13, "padding": 9, "strokeColor": "#000000", "fillColor": "#ffffff"}}}}
]
}
